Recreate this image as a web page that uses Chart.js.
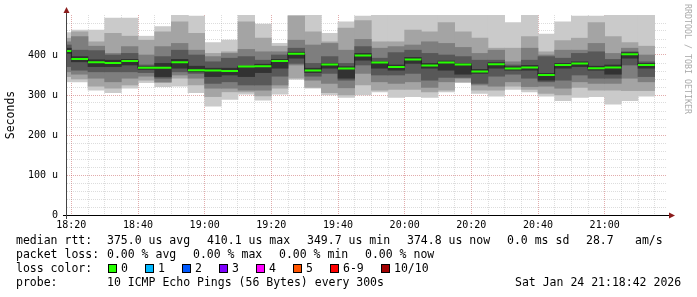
<!DOCTYPE html>
<html>
<head>
<meta charset="utf-8">
<script src="https://cdn.jsdelivr.net/npm/chart.js@4.4.1/dist/chart.umd.min.js"></script>
<style>
  body { margin: 0; background: #fff; }
  #wrap { position: relative; width: 697px; height: 297px; overflow: hidden; background: #fff; }
  #chart { position: absolute; left: 0; top: 0; }
  .t { position: absolute; font-family: 'DejaVu Sans Mono', monospace; font-size: 11.5px; line-height: 14px; white-space: pre; color: #000; }
  .box { position: absolute; width: 7px; height: 7px; border: 1px solid #000; }
  #wm { position: absolute; left: 693px; top: 4px; transform-origin: 0 0; transform: rotate(90deg);
        font-family: 'DejaVu Sans Mono', monospace; font-size: 8.3px; line-height: 10px; color: #aaa; white-space: pre; }
</style>
</head>
<body>
<div id="wrap">
  <canvas id="chart" width="697" height="297"></canvas>
  <div id="wm">RRDTOOL / TOBI OETIKER</div>
  <div id="legend"></div>
</div>
<script>
// 5 minute steps, start time of each step
const barStarts = ['18:15','18:20','18:25','18:30','18:35','18:40','18:45','18:50','18:55',
  '19:00','19:05','19:10','19:15','19:20','19:25','19:30','19:35','19:40','19:45','19:50','19:55',
  '20:00','20:05','20:10','20:15','20:20','20:25','20:30','20:35','20:40','20:45','20:50','20:55',
  '21:00','21:05','21:10'];

// sorted pings per step (us), ping1 = fastest
const ping1  = [333,333,312,306,317,331,321,322,306,272,289,302,287,302,339,317,300,294,300,308,294,296,294,308,331,304,297,314,308,297,286,294,296,277,286,297];
const ping2  = [346,340,322,317,325,337,331,342,325,296,308,308,298,317,342,319,306,300,325,312,314,314,308,312,333,312,312,322,314,304,300,319,312,312,311,311];
const ping3  = [358,352,342,333,342,347,333,350,342,317,317,312,312,325,375,337,329,318,354,333,329,333,319,333,342,325,322,333,321,322,317,333,329,329,342,333];
const ping4  = [371,362,358,358,358,356,342,358,354,329,333,325,325,347,379,347,354,337,375,350,350,354,337,344,344,329,347,352,342,333,337,350,342,342,375,346];
const ping5  = [404,383,371,371,375,364,346,367,358,346,350,346,356,367,392,356,367,342,387,367,362,379,367,362,352,354,367,362,362,337,367,371,362,352,392,367];
const median = [410,390,382,380,385,368,368,382,362,361,360,371,372,385,403,361,376,366,399,381,370,389,374,381,376,359,377,366,369,350,375,379,367,369,402,375];
const ping6  = [417,396,388,387,389,371,379,389,372,367,367,372,377,389,407,367,379,371,404,383,375,394,379,385,379,364,381,371,374,354,379,383,372,375,406,379];
const ping7  = [425,412,411,400,404,375,396,412,400,383,392,396,387,400,417,379,396,379,421,392,406,412,404,400,396,387,387,375,387,396,392,404,408,389,408,383];
const ping8  = [433,446,422,404,421,400,421,429,412,396,404,414,408,408,437,425,429,412,439,417,421,425,433,429,419,404,412,383,417,400,412,412,429,404,417,400];
const ping9  = [442,458,433,454,447,437,458,483,454,404,408,483,442,422,497,458,433,467,486,433,433,462,458,481,458,442,417,417,446,408,436,442,481,446,431,422];
const ping10 = [456,462,462,492,492,447,471,505,497,431,437,510,477,429,512,508,454,483,497,515,506,520,509,511,504,513,502,481,507,452,483,497,497,516,509,505];

const xTickLabels = ['18:20','18:40','19:00','19:20','19:40','20:00','20:20','20:40','21:00'];
const yTickLabels = ['0','100 u','200 u','300 u','400 u'];

const toMin = s => { const [h, m] = s.split(':').map(Number); return (h - 18) * 60 + m; };
const STEP = 5;
const xMin = toMin('18:18') + 42 / 60;
const xMax = xMin + 180;
const yMax = 500;

const layers = [
  [ping1, ping10, '#cacaca'],
  [ping2, ping9, '#a4a4a4'],
  [ping3, ping8, '#7e7e7e'],
  [ping4, ping7, '#585858'],
  [ping5, ping6, '#323232'],
];

const smokeSets = layers.map(([lo, hi, color], i) => ({
  type: 'bar',
  data: barStarts.map((s, j) => ({ x: toMin(s) + STEP / 2, y: [lo[j], hi[j]] })),
  backgroundColor: color,
  borderWidth: 0,
  barPercentage: 1,
  categoryPercentage: 1,
  grouped: false,
  clip: 0,
  order: 10 - i,
}));

// green median, one flat piece per step
const greenData = [];
barStarts.forEach((s, j) => {
  const x0 = toMin(s);
  greenData.push({ x: x0, y: median[j] }, { x: x0 + STEP, y: median[j] }, { x: x0 + STEP, y: null });
});
const stepData = barStarts.map((s, j) => ({ x: toMin(s), y: median[j] }));
stepData.push({ x: toMin(barStarts[barStarts.length - 1]) + STEP, y: median[median.length - 1] });

const mono = 'DejaVu Sans Mono';
const gridMinor = 'rgba(150,150,150,0.32)';
const gridMajor = 'rgba(190,70,70,0.45)';

const xLabelAt = {};
xTickLabels.forEach(l => { xLabelAt[toMin(l)] = l; });
const yLabelAt = {};
yTickLabels.forEach(l => { yLabelAt[parseFloat(l)] = l; });

const axisArrows = {
  id: 'axisArrows',
  afterDatasetsDraw(chart) {
    const { ctx, chartArea: { left, right, top, bottom } } = chart;
    ctx.save();
    ctx.lineWidth = 1;
    ctx.strokeStyle = '#000';
    ctx.beginPath();
    ctx.moveTo(left - 4, bottom + 0.5);
    ctx.lineTo(right + 4, bottom + 0.5);
    ctx.stroke();
    ctx.strokeStyle = '#444';
    ctx.beginPath();
    ctx.moveTo(left - 0.5, bottom + 4);
    ctx.lineTo(left - 0.5, top - 4);
    ctx.stroke();
    ctx.fillStyle = '#8b1c1c';
    ctx.beginPath();
    ctx.moveTo(left - 0.5, top - 8);
    ctx.lineTo(left - 3.5, top - 2);
    ctx.lineTo(left + 2.5, top - 2);
    ctx.closePath();
    ctx.fill();
    ctx.beginPath();
    ctx.moveTo(right + 8, bottom + 0.5);
    ctx.lineTo(right + 2, bottom - 2.5);
    ctx.lineTo(right + 2, bottom + 3.5);
    ctx.closePath();
    ctx.fill();
    ctx.restore();
  }
};

new Chart(document.getElementById('chart'), {
  type: 'bar',
  data: {
    datasets: [
      ...smokeSets,
      {
        type: 'line', data: stepData, stepped: 'before', borderColor: '#202020', borderWidth: 1,
        pointRadius: 0, fill: false, clip: 0, order: 1,
      },
      {
        type: 'line', data: greenData, borderColor: '#26ff00', borderWidth: 2, spanGaps: false,
        pointRadius: 0, fill: false, clip: 0, order: 0,
      },
    ],
  },
  options: {
    responsive: false,
    animation: false,
    devicePixelRatio: 1,
    layout: { padding: { left: 0, right: 30, top: 15, bottom: 0 } },
    plugins: { legend: { display: false }, tooltip: { enabled: false } },
    scales: {
      x: {
        type: 'linear', min: xMin, max: xMax, offset: false,
        afterBuildTicks: sc => {
          const t = [];
          for (let v = Math.ceil(xMin / STEP) * STEP; v < xMax; v += STEP) t.push({ value: v });
          sc.ticks = t;
        },
        afterFit: sc => { sc.height = 82; },
        grid: {
          offset: false, drawTicks: false, lineWidth: 1,
          color: c => (c.tick && c.tick.value % 20 === 0) ? gridMajor : gridMinor,
        },
        border: { display: false, dash: [1, 1] },
        ticks: {
          autoSkip: false, maxRotation: 0, padding: 4, color: '#000',
          font: { family: mono, size: 10 },
          callback: v => xLabelAt[v] || '',
        },
      },
      y: {
        min: 0, max: yMax,
        afterBuildTicks: sc => {
          const t = [];
          for (let v = 0; v < yMax; v += 20) t.push({ value: v });
          sc.ticks = t;
        },
        afterFit: sc => { sc.width = 67; },
        grid: {
          drawTicks: false, lineWidth: 1,
          color: c => (!c.tick || c.tick.value === 0) ? 'rgba(0,0,0,0)' : (c.tick.value % 100 === 0 ? gridMajor : gridMinor),
        },
        border: { display: false, dash: [1, 1] },
        ticks: {
          autoSkip: false, padding: 9, color: '#000',
          font: { family: mono, size: 10 },
          callback: v => (v in yLabelAt) ? yLabelAt[v] : '',
        },
        title: {
          display: true, text: 'Seconds', color: '#000',
          font: { family: mono, size: 11.5 }, padding: { top: 4, bottom: 0 },
        },
      },
    },
  },
  plugins: [axisArrows],
});

// text legend below the graph
const lossColors = [['0', '#26ff00'], ['1', '#00b8ff'], ['2', '#0059ff'], ['3', '#7e00ff'],
  ['4', '#ff00ff'], ['5', '#ff5500'], ['6-9', '#ff0000'], ['10/10', '#a10000']];
const lines = [
  [[16, 'median rtt:'], [107, '375.0 us avg'], [207, '410.1 us max'], [307, '349.7 us min'],
   [407, '374.8 us now'], [507, '0.0 ms sd'], [586, '28.7'], [635, 'am/s']],
  [[16, 'packet loss:'], [107, '0.00 % avg'], [193, '0.00 % max'], [279, '0.00 % min'], [365, '0.00 % now']],
  [[16, 'loss color:']],
  [[16, 'probe:'], [107, '10 ICMP Echo Pings (56 Bytes) every 300s']],
];
const legend = document.getElementById('legend');
const baselines = [244.3, 258.3, 272.3, 286.3];
const addText = (x, top, txt) => {
  const d = document.createElement('div');
  d.className = 't';
  d.style.left = x + 'px';
  d.style.top = top + 'px';
  d.textContent = txt;
  legend.appendChild(d);
  return d;
};
lines.forEach((items, i) => items.forEach(([x, txt]) => addText(x, baselines[i] - 11, txt)));
const boxX = [108, 145, 182, 219, 256, 293, 330, 381];
lossColors.forEach(([lbl, col], k) => {
  const b = document.createElement('div');
  b.className = 'box';
  b.style.left = boxX[k] + 'px';
  b.style.top = (baselines[2] - 8) + 'px';
  b.style.background = col;
  legend.appendChild(b);
  addText(boxX[k] + 13, baselines[2] - 11, lbl);
});
const stamp = addText(0, baselines[3] - 11, 'Sat Jan 24 21:18:42 2026');
stamp.style.left = (681 - stamp.offsetWidth) + 'px';
</script>
</body>
</html>
